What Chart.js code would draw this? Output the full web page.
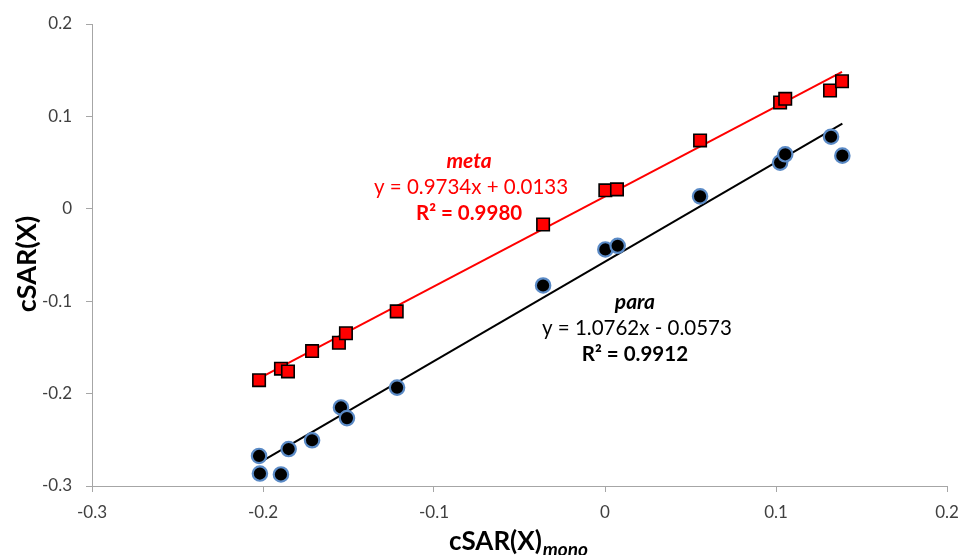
<!DOCTYPE html>
<html>
<head>
<meta charset="utf-8">
<script src="https://cdn.jsdelivr.net/npm/chart.js@4.4.1/dist/chart.umd.min.js"></script>
<style>
html, body { margin: 0; padding: 0; background: #ffffff; }
#wrap { width: 958px; height: 555px; position: relative; }
</style>
</head>
<body>
<div id="wrap"><canvas id="csarChart"></canvas></div>
<script>

/* DATA */

const metaX = [-0.2023, -0.1895, -0.1854, -0.1713, -0.1556, -0.1515, -0.1218, -0.0362, 0.0002, 0.0070, 0.0556, 0.1024, 0.1054, 0.1316, 0.1386];
const metaY = [-0.1855, -0.1730, -0.1760, -0.1540, -0.1450, -0.1347, -0.1110, -0.0170, 0.0200, 0.0210, 0.0740, 0.1150, 0.1190, 0.1280, 0.1380];

const paraX = [-0.2023, -0.2018, -0.1895, -0.1850, -0.1713, -0.1544, -0.1509, -0.1216, -0.0362, 0.0002, 0.0074, 0.0556, 0.1024, 0.1054, 0.1322, 0.1388];
const paraY = [-0.2675, -0.2865, -0.2875, -0.2600, -0.2505, -0.2150, -0.2265, -0.1935, -0.0830, -0.0440, -0.0400, 0.0135, 0.0500, 0.0590, 0.0780, 0.0575];

const metaFit = { slope: 0.9734, intercept: 0.0133, r2: "0.9980" };
const paraFit = { slope: 1.0762, intercept: -0.0573, r2: "0.9912" };

const xRange = [-0.3, 0.2];
const yRange = [-0.3, 0.2];
const tickStep = 0.1;

const toPoints = (xs, ys) => xs.map((x, i) => ({ x: x, y: ys[i] }));

const fitLine = (xs, fit) => {
const lo = Math.min(...xs);
const hi = Math.max(...xs);
return [
{ x: lo, y: fit.slope * lo + fit.intercept },
{ x: hi, y: fit.slope * hi + fit.intercept }
];
};

const FONT = "Lato, 'Open Sans', sans-serif";

/* TEXT PLUGIN: trend labels and axis titles */

const labelsPlugin = {
id: "trendLabels",
afterDraw(chart) {
const ctx = chart.ctx;
const xs = chart.scales.x;
const ys = chart.scales.y;
ctx.save();
ctx.textAlign = "center";
ctx.textBaseline = "middle";

const block = (x, y, name, fit, color) => {
const px = xs.getPixelForValue(x);
const py = ys.getPixelForValue(y);
ctx.fillStyle = color;
ctx.font = "italic bold 21px " + FONT;
ctx.fillText(name, px, py);
const sign = fit.intercept < 0 ? " - " : " + ";
ctx.font = "20.5px " + FONT;
ctx.fillText("y = " + fit.slope.toFixed(4) + "x" + sign + Math.abs(fit.intercept).toFixed(4), px + 2, py + 26);
ctx.font = "bold 20.5px " + FONT;
ctx.fillText("R\u00b2 = " + fit.r2, px, py + 52);
};

block(-0.0795, 0.0511, "meta", metaFit, "#ff0000");
block(0.0175, -0.1011, "para", paraFit, "#000000");

// x axis title with subscript
ctx.fillStyle = "#000000";
ctx.textAlign = "left";
ctx.textBaseline = "alphabetic";
ctx.font = "bold 26px " + FONT;
const main = "cSAR(X)";
const w1 = ctx.measureText(main).width;
ctx.font = "italic bold 19px " + FONT;
const w2 = ctx.measureText("mono").width;
const startX = 518 - (w1 + w2) / 2;
ctx.font = "bold 26px " + FONT;
ctx.fillText(main, startX, 550);
ctx.font = "italic bold 19px " + FONT;
ctx.fillText("mono", startX + w1 + 1, 556);

// y axis title
ctx.translate(27, 264);
ctx.rotate(-Math.PI / 2);
ctx.textAlign = "center";
ctx.textBaseline = "middle";
ctx.font = "bold 27px " + FONT;
ctx.fillText("cSAR(X)", 0, 0);

ctx.restore();
}
};

const fmt = v => String(Math.round(v * 10) / 10);

const ctx = document.getElementById("csarChart").getContext("2d");

new Chart(ctx, {

type: "scatter",

data: {

datasets: [

{
label: "meta",
data: toPoints(metaX, metaY),
pointStyle: "rect",
pointRadius: 8.8,
backgroundColor: "#ff0000",
borderColor: "#000000",
borderWidth: 1.6,
order: 0
},

{
label: "para",
data: toPoints(paraX, paraY),
pointStyle: "circle",
pointRadius: 7.2,
backgroundColor: "#000000",
borderColor: "#5a8ac6",
borderWidth: 2.2,
order: 0
},

{
label: "meta fit",
data: fitLine(metaX, metaFit),
showLine: true,
pointRadius: 0,
borderColor: "#ff0000",
borderWidth: 2,
order: 1
},

{
label: "para fit",
data: fitLine(paraX, paraFit),
showLine: true,
pointRadius: 0,
borderColor: "#000000",
borderWidth: 2,
order: 1
}

]

},

options: {

responsive: true,

maintainAspectRatio: false,

animation: false,

layout: {
padding: { top: 24, right: 11, left: 0, bottom: 0 }
},

plugins: {
legend: { display: false },
tooltip: { enabled: false }
},

scales: {

x: {
type: "linear",
min: xRange[0],
max: xRange[1],
afterFit(scale) {
scale.height = 69;
scale.paddingLeft = 0;
scale.paddingRight = 0;
},
grid: {
drawOnChartArea: false,
tickLength: 6,
color: "#a6a6a6"
},
border: { color: "#a6a6a6", width: 1 },
ticks: {
stepSize: tickStep,
padding: 10,
color: "#404040",
font: { family: FONT, size: 17 },
callback: fmt
}
},

y: {
type: "linear",
min: yRange[0],
max: yRange[1],
afterFit(scale) {
scale.width = 92;
scale.paddingTop = 0;
scale.paddingBottom = 0;
},
grid: {
drawOnChartArea: false,
tickLength: 6,
color: "#a6a6a6"
},
border: { color: "#a6a6a6", width: 1 },
ticks: {
stepSize: tickStep,
padding: 14,
color: "#404040",
font: { family: FONT, size: 17 },
callback: fmt
}
}

}

},

plugins: [labelsPlugin]

});

</script>
</body>
</html>
